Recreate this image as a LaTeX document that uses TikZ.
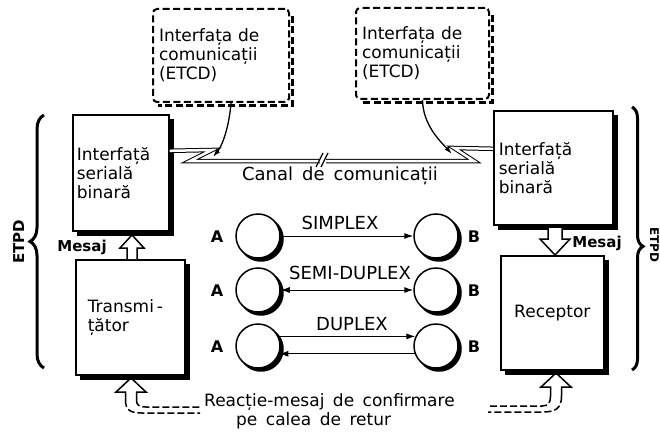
\documentclass[tikz,border=0pt]{standalone}
\usepackage{fontspec}
\setmainfont{DejaVu Sans}
\usetikzlibrary{arrows.meta,decorations.pathreplacing,calc}
\begin{document}
\begin{tikzpicture}[x=1pt,y=-1pt,
  every node/.style={font=\fontsize{17}{19}\selectfont},
  boxnode/.style={draw,line width=1.6pt,fill=white,anchor=north west,inner ysep=0pt},
  boxshadow/.style={fill=black},
  etcd/.style={draw,line width=2pt,dash pattern=on 7pt off 3.5pt,rounded corners=4pt,
     anchor=north west,align=left,inner ysep=0pt,inner xsep=6pt},
  etcdshadow/.style={line width=2.2pt,dash pattern=on 7pt off 3.5pt},
  circ/.style={circle,draw,line width=1.5pt,fill=white,minimum size=44pt,inner sep=0pt},
  lbl/.style={font=\fontsize{15}{17}\selectfont\bfseries},
  ablbl/.style={font=\fontsize{16}{18}\selectfont\bfseries},
  modelbl/.style={font=\fontsize{18}{20}\selectfont},
  link/.style={line width=1pt},
  sarrow/.style={-{Latex[length=9pt,width=6pt]}},
  darrow/.style={{Latex[length=9pt,width=6pt]}-{Latex[length=9pt,width=6pt]}},
  hollow/.style={line width=1.5pt,line join=miter},
  ret/.style={line width=1.5pt,dash pattern=on 7pt off 3pt},
  canalline/.style={double=white,double distance=2.5pt,line width=1pt,line join=miter},
  bracestyle/.style={decorate,decoration={brace,amplitude=14pt},line width=3pt}
]
\useasboundingbox (0,0) rectangle (660,433);
\fill[white] (0,0) rectangle (660,433);

% ETCD boxes
\node[etcd,minimum width=136pt,minimum height=93pt,text width=124pt] (EL) at (152,8)
  {Interfața de\\comunicații\\(ETCD)};
\node[etcd,minimum width=133pt,minimum height=91pt,text width=121pt] (ER) at (355,7)
  {Interfața de\\comunicații\\(ETCD)};
\draw[etcdshadow] ($(EL.north east)+(2.5,8)$) -- ($(EL.south east)+(2.5,2.5)$) -- ($(EL.south west)+(6,2.5)$);
\draw[etcdshadow] ($(ER.north east)+(2.5,8)$) -- ($(ER.south east)+(2.5,2.5)$) -- ($(ER.south west)+(6,2.5)$);

% ETPD boxes
\node[boxnode,minimum width=96pt,minimum height=116pt,text width=88pt,inner xsep=4pt,align=left] (IL) at (72,114)
  {Interfață\\serială\\binară};
\node[boxnode,minimum width=119pt,minimum height=114pt,text width=109pt,inner xsep=5pt,align=left] (IR) at (493,110)
  {Interfață\\serială\\binară};
\node[boxnode,minimum width=109pt,minimum height=115pt,text width=85pt,inner xsep=12pt,align=left] (T) at (75,259)
  {Transmi\,-\\țător};
\node[boxnode,minimum width=103pt,minimum height=114pt,text width=95pt,inner xsep=4pt,align=center] (R) at (500,255)
  {Receptor};
\foreach \b in {IL,IR,T,R}{
  \fill[boxshadow] ($(\b.north east)+(-0.2,4.5)$) rectangle ($(\b.south east)+(4,4)$);
  \fill[boxshadow] ($(\b.south west)+(4.5,-0.2)$) rectangle ($(\b.south east)+(4,4)$);
}

% channel
\coordinate (z1) at (212,150);
\coordinate (z2) at (190,161);
\coordinate (z3) at (474,161);
\coordinate (z4) at (454,148);
\draw[canalline] ([yshift=22pt]IL.east) -- (z1) -- (z2) -- (z3) -- (z4) -- ([yshift=19pt]IR.west);
\fill[white] (320,155) rectangle (326,167);
\draw[line width=1.2pt] (316,167) -- (323,153) (321,167) -- (328,153);
\node[font=\fontsize{18}{20}\selectfont] (canal) at (340,176) {Canal\enspace de\enspace comunicații};

% ETCD connectors
\coordinate (pL) at (213,157);
\coordinate (pR) at (452,154);
\draw[line width=1.3pt,-{Latex[length=8pt,width=5pt]}] ([xshift=10pt]EL.south) .. controls (229,128) and (222,146) .. (pL);
\draw[line width=1.3pt,-{Latex[length=8pt,width=5pt]}] (ER.south) .. controls (423,125) and (440,141) .. (pR);

% circles
\node[circ] (A1) at (258,236) {};
\node[circ] (B1) at (436,236) {};
\node[circ] (A2) at (258,290) {};
\node[circ] (B2) at (436,290) {};
\node[circ] (A3) at (258,346) {};
\node[circ] (B3) at (436,346) {};
% crescent shadows on the lower right of each circle
\foreach \cx/\cy in {258/236,436/236,258/290,436/290,258/346,436/346}{
  \fill[black] plot[domain=-50.35:140.35,samples=40,variable=\t]
      ({\cx+3+22.75*cos(\t)},{\cy+3+22.75*sin(\t)})
    -- plot[domain=129.65:-39.65,samples=40,variable=\t]
      ({\cx+21.9*cos(\t)},{\cy+21.9*sin(\t)}) -- cycle;
}
\foreach \n/\y in {1/237,2/291,3/347}{
  \node[ablbl] (la\n) at (217,\y) {A};
  \node[ablbl] (lb\n) at (474,\y) {B};
}
\draw[link,sarrow] (A1) -- (B1);
\draw[link,darrow] (A2) -- (B2);
\draw[link,sarrow] (A3.25) -- (B3.155);
\draw[link,sarrow] (B3.-160) -- (A3.-20);
\node[modelbl] (m1) at (340,223) {SIMPLEX};
\node[modelbl] (m2) at (350,273) {SEMI-DUPLEX};
\node[modelbl] (m3) at (352,324) {DUPLEX};

% Mesaj arrows
\draw[hollow,fill=white] (127,259) -- (127,248) -- (120,248) -- (132,235) -- (144,248) -- (137,248) -- (137,259);
\node[lbl] (mL) at (82,247) {Mesaj};
\draw[hollow,fill=white] (548,228) -- (548,239) -- (540,239) -- (555,255) -- (570,239) -- (562,239) -- (562,228);
\node[lbl] (mR) at (597,243) {Mesaj};

% return path
\draw[hollow] (125.5,400) -- (125.5,392) -- (116,392) -- (131,378) -- (146,392) -- (136.5,392) -- (136.5,400);
\draw[ret] (125.5,400) .. controls (125.5,410) and (130,413) .. (142,413) -- (200,413);
\draw[ret] (136.5,400) .. controls (136.5,405) and (139,407) .. (146,407) -- (200,407);
\draw[hollow] (550.5,396) -- (550.5,387) -- (541,387) -- (556,373) -- (571,387) -- (561.5,387) -- (561.5,396);
\draw[ret] (550.5,396) .. controls (550.5,403) and (548,406) .. (542,406) -- (488,406);
\draw[ret] (561.5,396) .. controls (561.5,409) and (555,412) .. (542,412) -- (488,412);
\node[align=left,anchor=north west,inner sep=0pt] (rettxt) at (204,393)
  {Reacție-mesaj\enspace de\enspace confirmare\\\hspace*{32pt}pe\enspace calea\enspace de\enspace retur};

% braces
\draw[bracestyle] (44,368) -- (44,115);
\draw[bracestyle,decoration={amplitude=11pt,aspect=0.53}] (632,107) -- (632,370);
\node[lbl,font=\fontsize{15}{17}\selectfont\bfseries,rotate=90,anchor=base,inner sep=0pt] (etpdL) at (24,242) {ETPD};
\node[lbl,font=\fontsize{12}{14}\selectfont\bfseries,rotate=-90,anchor=base,inner sep=0pt] (etpdR) at (650,245) {ETPD};
\end{tikzpicture}
\end{document}
